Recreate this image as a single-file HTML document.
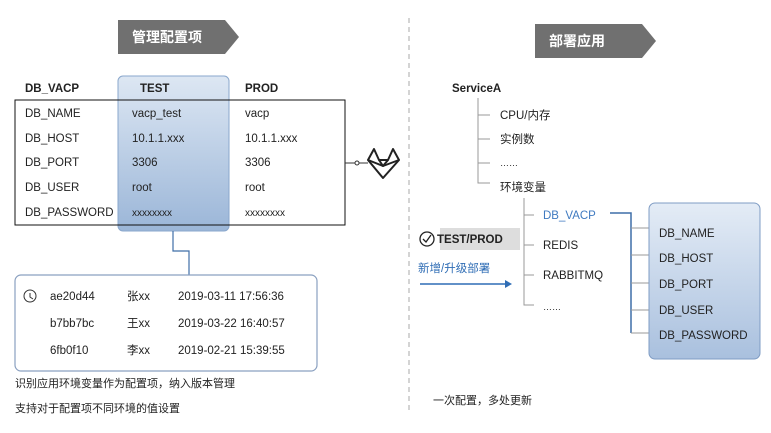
<!DOCTYPE html>
<html><head><meta charset="utf-8"><style>
body{margin:0;background:#fff}
svg{display:block}
text{font-family:"Liberation Sans","Noto Sans CJK SC",sans-serif;font-size:11.5px;fill:#222}
.b{font-weight:bold}
</style></head><body>
<svg width="771" height="433" viewBox="0 0 771 433">
<defs>
<linearGradient id="g" x1="0" y1="0" x2="0" y2="1">
<stop offset="0" stop-color="#dde7f3"/><stop offset="1" stop-color="#9bb6d8"/></linearGradient>
<linearGradient id="g2" x1="0" y1="0" x2="0" y2="1">
<stop offset="0" stop-color="#e4ecf6"/><stop offset="1" stop-color="#a9c0de"/></linearGradient>
</defs>
<polygon points="118,20 225,20 239,37 225,54 118,54" fill="#707070"/>
<text x="132" y="42" class="b" style="fill:#fff;font-size:14px">管理配置项</text>
<rect x="118" y="76" width="111" height="155" rx="5" fill="url(#g)" stroke="#8aa7cc"/>
<text x="25" y="92" class="b">DB_VACP</text>
<text x="140" y="92" class="b">TEST</text>
<text x="245" y="92" class="b">PROD</text>
<rect x="15" y="100" width="330" height="125" fill="none" stroke="#111" stroke-width="1"/>
<g>
<text x="25" y="117">DB_NAME</text><text x="132" y="117">vacp_test</text><text x="245" y="117">vacp</text>
<text x="25" y="142">DB_HOST</text><text x="132" y="142">10.1.1.xxx</text><text x="245" y="142">10.1.1.xxx</text>
<text x="25" y="166">DB_PORT</text><text x="132" y="166">3306</text><text x="245" y="166">3306</text>
<text x="25" y="191">DB_USER</text><text x="132" y="191">root</text><text x="245" y="191">root</text>
<text x="25" y="216">DB_PASSWORD</text><text x="132" y="216" style="font-size:10px">xxxxxxxx</text><text x="245" y="216" style="font-size:10px">xxxxxxxx</text>
</g>
<line x1="345" y1="163" x2="368" y2="163" stroke="#333"/>
<circle cx="357" cy="163" r="2" fill="#fff" stroke="#333"/>
<g fill="none" stroke="#222" stroke-width="2" stroke-linejoin="round">
<polygon points="368,160 374,149 379,160 388,160 393,149 399,160 383,178"/>
<polyline points="368,160 383,166 399,160"/><polyline points="379,160 383,166 388,160"/>
</g>
<polyline points="173,231 173,251 189,251 189,275" fill="none" stroke="#3f6ea8" stroke-width="1.2"/>
<rect x="15" y="275" width="302" height="96" rx="6" fill="#fff" stroke="#8aa0c0" stroke-width="1.2"/>
<circle cx="30" cy="296" r="6" fill="none" stroke="#333"/>
<polyline points="30,293 30,297 33,299" fill="none" stroke="#333"/>
<text x="50" y="300">ae20d44</text><text x="127" y="300">张xx</text><text x="178" y="300">2019-03-11 17:56:36</text>
<text x="50" y="327">b7bb7bc</text><text x="127" y="327">王xx</text><text x="178" y="327">2019-03-22 16:40:57</text>
<text x="50" y="354">6fb0f10</text><text x="127" y="354">李xx</text><text x="178" y="354">2019-02-21 15:39:55</text>
<text x="15" y="387" style="font-size:11px">识别应用环境变量作为配置项，纳入版本管理</text>
<text x="15" y="412" style="font-size:11px">支持对于配置项不同环境的值设置</text>
<line x1="409" y1="18" x2="409" y2="412" stroke="#aaa" stroke-dasharray="5,4"/>
<polygon points="535,24 642,24 656,41 642,58 535,58" fill="#707070"/>
<text x="549" y="46" class="b" style="fill:#fff;font-size:14px">部署应用</text>
<text x="452" y="92" class="b">ServiceA</text>
<g stroke="#999" fill="none">
<polyline points="478,98 478,183 490,183"/>
<line x1="478" y1="115" x2="490" y2="115"/><line x1="478" y1="139" x2="490" y2="139"/><line x1="478" y1="163" x2="490" y2="163"/>
<polyline points="524,198 524,305 534,305"/>
<line x1="524" y1="215" x2="534" y2="215"/><line x1="524" y1="245" x2="534" y2="245"/><line x1="524" y1="275" x2="534" y2="275"/>
</g>
<text x="500" y="119">CPU/内存</text><text x="500" y="143">实例数</text><text x="500" y="166" style="font-size:9px">……</text><text x="500" y="191">环境变量</text>
<text x="543" y="219" style="fill:#3f7ac0">DB_VACP</text>
<text x="543" y="249">REDIS</text><text x="543" y="279">RABBITMQ</text><text x="543" y="310" style="font-size:9px">……</text>
<polyline points="610,213 631,213 631,333" fill="none" stroke="#3f6ea8" stroke-width="1.5"/>
<g stroke="#999"><line x1="631" y1="228" x2="649" y2="228"/><line x1="631" y1="255" x2="649" y2="255"/><line x1="631" y1="283" x2="649" y2="283"/><line x1="631" y1="310" x2="649" y2="310"/><line x1="631" y1="333" x2="649" y2="333"/></g>
<rect x="649" y="203" width="111" height="156" rx="6" fill="url(#g2)" stroke="#7f9cc4"/>
<text x="659" y="237">DB_NAME</text><text x="659" y="262">DB_HOST</text><text x="659" y="288">DB_PORT</text><text x="659" y="314">DB_USER</text><text x="659" y="339">DB_PASSWORD</text>
<rect x="440" y="228" width="80" height="22" fill="#ddd"/>
<circle cx="427" cy="239" r="7" fill="#fff" stroke="#222" stroke-width="1.3"/>
<polyline points="423,239 426,242 431,235" fill="none" stroke="#222" stroke-width="1.3"/>
<text x="437" y="243" class="b">TEST/PROD</text>
<text x="418" y="272" style="fill:#2f6db5">新增/升级部署</text>
<line x1="420" y1="284" x2="506" y2="284" stroke="#2f6db5" stroke-width="1.5"/>
<polygon points="512,284 505,280 505,288" fill="#2f6db5"/>
<text x="433" y="404" style="font-size:11px">一次配置，多处更新</text>
</svg>
</body></html>
